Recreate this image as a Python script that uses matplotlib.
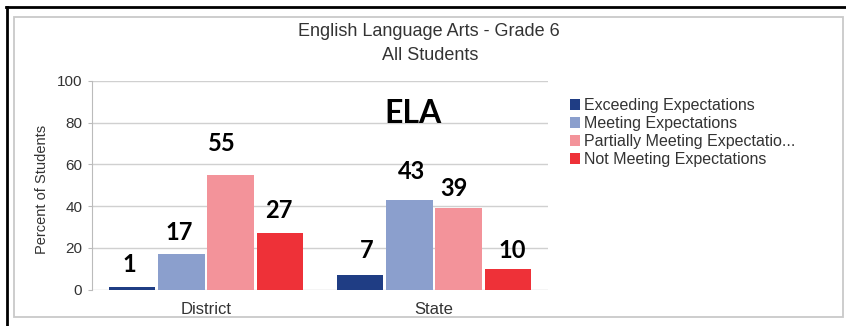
import matplotlib
matplotlib.use("Agg")
import matplotlib.pyplot as plt
from matplotlib.patches import Rectangle
from matplotlib.lines import Line2D
import numpy as np

# ---- data ----
categories = ["District", "State"]
series_names = ["Exceeding Expectations", "Meeting Expectations",
                "Partially Meeting Expectatio...", "Not Meeting Expectations"]
exceeding = [1, 7]
meeting = [17, 43]
partially = [55, 39]
not_meeting = [27, 10]
yticks = [0, 20, 40, 60, 80, 100]

series_values = [exceeding, meeting, partially, not_meeting]
colors = ["#1f3d84", "#8b9fcd", "#f3939a", "#ee3138"]

# label nudges (px): per series, per category (dx, gap above bar)
label_dx = [[-3, 6.5], [-2, 2], [-9, -4.5], [-1, 4]]
label_gap = [[15, 17], [14, 21], [24, 12], [15, 11]]

W, H = 846, 326
fig = plt.figure(figsize=(W / 100, H / 100), dpi=100)
fig.patch.set_facecolor("white")

# frames
fig.add_artist(Line2D([6 / W, 1.0], [1 - 7 / H, 1 - 7 / H], color="black", lw=2.0,
                      transform=fig.transFigure))
fig.add_artist(Line2D([7 / W, 7 / W], [0, 1 - 7 / H], color="black", lw=2.0,
                      transform=fig.transFigure))
fig.add_artist(Rectangle((14 / W, (H - 317) / H), 829 / W, 300 / H, fill=False,
                         edgecolor="#c9c9c9", lw=1.3, transform=fig.transFigure))

ax_l, ax_r, ax_t, ax_b = 92, 548, 81, 289.5
ax = fig.add_axes([ax_l / W, (H - ax_b) / H, (ax_r - ax_l) / W, (ax_b - ax_t) / H])

x = np.arange(len(categories))
pitch = 0.2167
width = 0.204
n = len(series_values)
for i, (name, vals, c) in enumerate(zip(series_names, series_values, colors)):
    pos = x + (i - (n - 1) / 2) * pitch
    ax.bar(pos, vals, width=width, color=c, label=name, zorder=3)
    for j, (p, v) in enumerate(zip(pos, vals)):
        ax.annotate(str(v), xy=(p, v), xytext=(label_dx[i][j] * 0.72, label_gap[i][j] * 0.72),
                    textcoords="offset points", ha="center", va="baseline",
                    fontsize=17, fontweight="bold", family="Lato", color="black", zorder=5)

ax.set_xlim(-0.5, 1.5)
ax.set_ylim(0, 100)
ax.set_yticks(yticks)
ax.set_yticklabels([str(t) for t in yticks], fontsize=11, family="Liberation Sans", color="#333333")
ax.set_xticks(x)
ax.set_xticklabels(categories, fontsize=12, family="Liberation Sans", color="#333333")
ax.tick_params(axis="x", length=0, pad=9)
ax.tick_params(axis="y", length=3, color="#bbbbbb", pad=4)
ax.grid(axis="y", color="#d0d0d0", lw=1.0, zorder=0)
for s in ["top", "right", "bottom"]:
    ax.spines[s].set_visible(False)
ax.spines["left"].set_color("#bbbbbb")
ax.set_ylabel("Percent of Students", fontsize=10.5, family="Liberation Sans", color="#333333")
ax.yaxis.set_label_coords((49 - ax_l) / (ax_r - ax_l), 0.48)

ax.text((412.5 - ax_l) / (ax_r - ax_l), (ax_b - 123) / (ax_b - ax_t), "ELA",
        transform=ax.transAxes, ha="center", va="baseline", fontsize=23,
        fontweight="bold", family="Lato", color="black", zorder=6)

fig.text(429 / W, 1 - 31 / H, "English Language Arts - Grade 6", ha="center", va="center",
         fontsize=13, family="Liberation Sans", color="#333333")
fig.text(430 / W, 1 - 56 / H, "All Students", ha="center", va="center",
         fontsize=13, family="Liberation Sans", color="#333333")

leg = ax.legend(loc="upper left", bbox_to_anchor=(570 / W, 1 - 98 / H),
                bbox_transform=fig.transFigure, frameon=False,
                prop={"family": "Liberation Sans", "size": 11.5},
                handlelength=0.65, handleheight=0.65, handletextpad=0.25,
                labelspacing=0.19, borderpad=0.0, borderaxespad=0.0)
for t in leg.get_texts():
    t.set_color("#333333")

fig.savefig("out.png", dpi=100)
